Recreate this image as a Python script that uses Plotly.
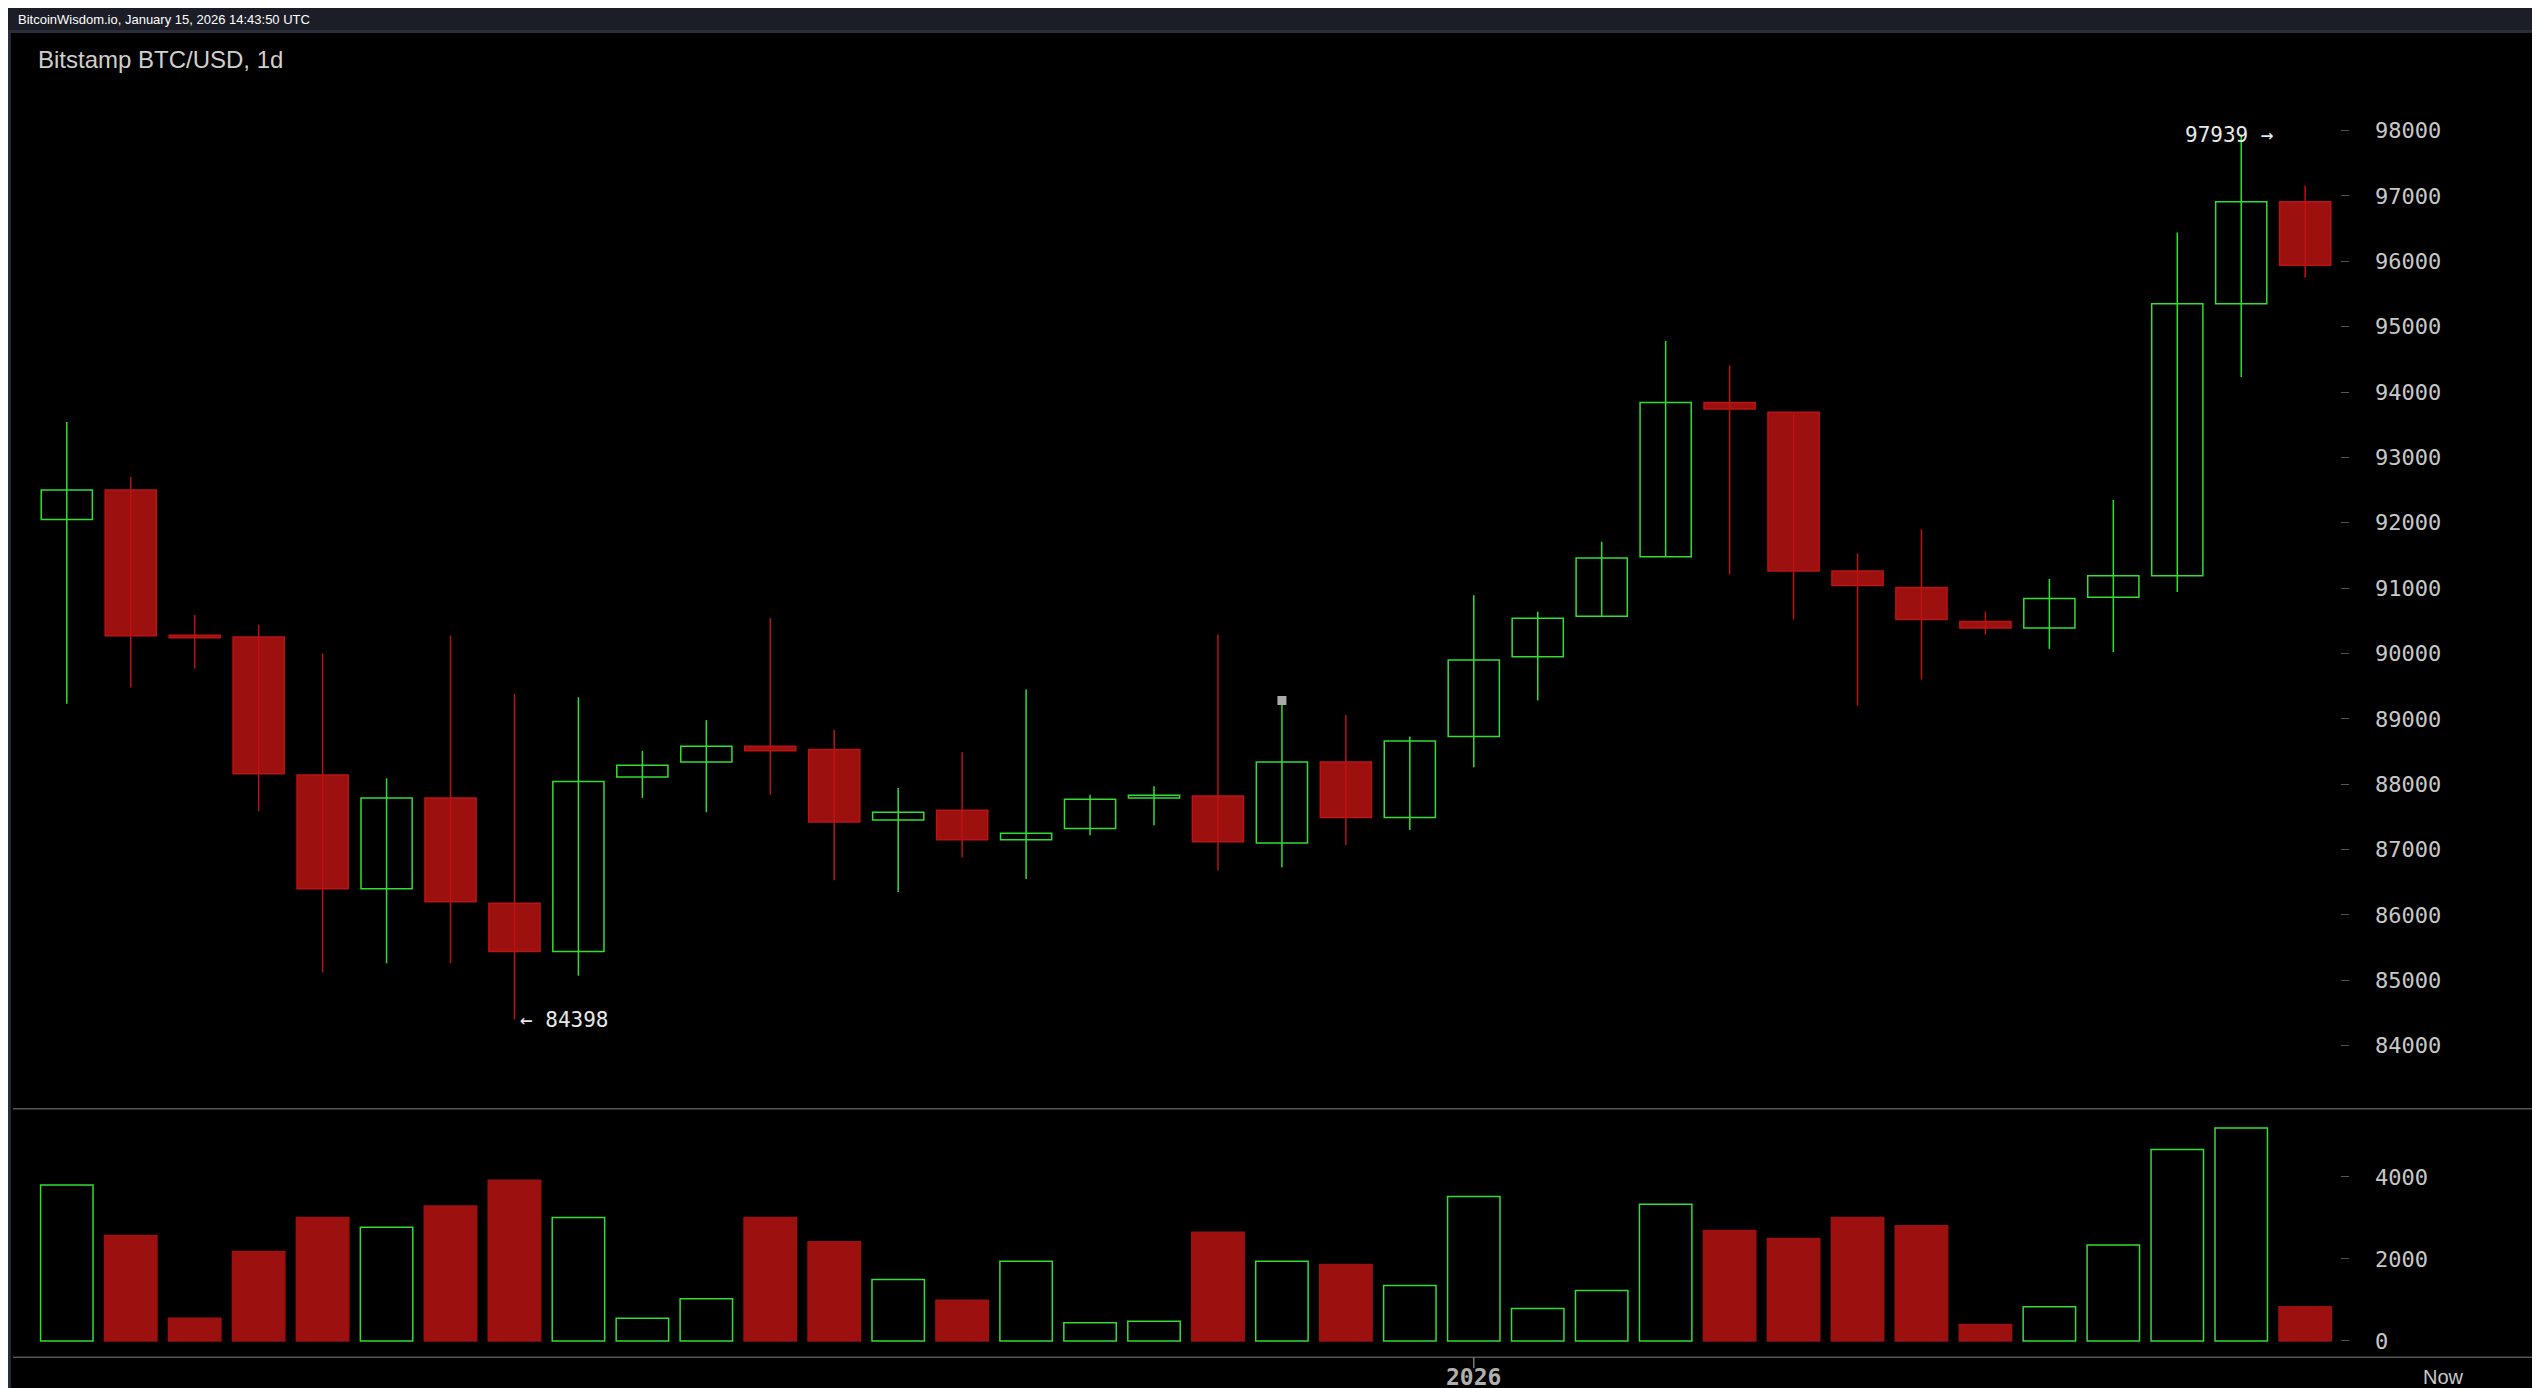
import plotly.graph_objects as go
from plotly.subplots import make_subplots

opens  = [92050,92500,90260,90250,88140,86400,87790,86180,85440,88110,88340,88580,88530,87450,87600,87150,87320,87790,87820,87100,88340,87490,88730,89950,90570,91480,93840,93690,91260,91010,90490,90390,90860,91190,95350,96910]
closes = [92500,90270,90240,88160,86400,87790,86200,85440,88040,88290,88580,88510,87420,87570,87150,87250,87770,87820,87120,88340,87490,88660,89900,90540,91460,93840,93740,91260,91040,90520,90390,90840,91190,95350,96910,95940]
highs  = [93540,92700,90590,90440,90000,88090,90270,89380,89330,88510,88980,90540,88830,87940,88490,89450,87840,87970,90290,89280,89060,88730,90890,90640,91710,94780,94410,93690,91530,91900,90640,91140,92350,96440,97939,97160]
lows   = [89230,89480,89770,87590,85120,85260,85260,84398,85070,87790,87570,87840,86530,86350,86880,86550,87220,87370,86680,86730,87070,87300,88260,89280,90570,91480,91210,90520,89200,89600,90290,90070,90020,90940,94230,95750]
volumes = [3800,2570,550,2180,3010,2770,3290,3920,3010,550,1030,3010,2420,1500,990,1940,440,480,2650,1940,1860,1350,3520,790,1230,3330,2690,2500,3010,2810,400,830,2340,4670,5190,830]
price_ticks = [84000,85000,86000,87000,88000,89000,90000,91000,92000,93000,94000,95000,96000,97000,98000]
vol_ticks = [0,2000,4000]

n = len(opens)
xs = list(range(n))
GREEN = "#33dd33"; RED_LINE = "#b81414"; RED_FILL = "#9c1010"
up = [c >= o for o, c in zip(opens, closes)]

fig = make_subplots(rows=2, cols=1, shared_xaxes=True, vertical_spacing=0)

# wicks
for flag, col in [(True, GREEN), (False, RED_LINE)]:
    wx, wy = [], []
    for i in xs:
        if up[i] == flag:
            wx += [i, i, None]; wy += [lows[i], highs[i], None]
    fig.add_trace(go.Scatter(x=wx, y=wy, mode="lines", line=dict(color=col, width=1.5),
                             showlegend=False, hoverinfo="skip"), row=1, col=1)
# bodies
base = [min(o, c) for o, c in zip(opens, closes)]
hgt = [max(abs(c - o), 40) for o, c in zip(opens, closes)]
fig.add_trace(go.Bar(x=xs, y=hgt, base=base, width=0.8,
    marker=dict(color=["#000000" if u else RED_FILL for u in up],
                line=dict(color=[GREEN if u else RED_LINE for u in up], width=1.5)),
    showlegend=False, hoverinfo="skip"), row=1, col=1)
fig.add_trace(go.Bar(x=xs, y=volumes, width=0.82,
    marker=dict(color=["#000000" if u else RED_FILL for u in up],
                line=dict(color=[GREEN if u else RED_FILL for u in up], width=1.5)),
    showlegend=False, hoverinfo="skip"), row=2, col=1)
fig.add_trace(go.Scatter(x=[19], y=[highs[19]], mode="markers",
    marker=dict(symbol="square", size=9, color="#aaaaaa"), showlegend=False), row=1, col=1)

axfont = dict(family="DejaVu Sans Mono", size=22, color="#c8c8c8")
fig.update_xaxes(range=[-0.84, 35.54], showgrid=False, zeroline=False, showticklabels=False,
                 domain=[0.002, 0.918])
fig.update_yaxes(side="right", showgrid=False, zeroline=False, ticks="outside", ticklen=8,
                 tickcolor="#555", tickfont=axfont, ticklabelstandoff=22, tickformat="d")
fig.update_yaxes(range=[83035, 98644], tickvals=price_ticks, domain=[0.207, 0.942], row=1, col=1)
fig.update_yaxes(range=[-396, 5663], tickvals=vol_ticks, domain=[0.028, 0.207], row=2, col=1)

shapes = [
    dict(type="rect", xref="paper", yref="paper", x0=0, x1=1, y0=0.983, y1=1, fillcolor="#1b1e27", line_width=0, layer="below"),
    dict(type="line", xref="paper", yref="paper", x0=0.002, x1=0.998, y0=0.207, y1=0.207, line=dict(color="#555", width=1.5)),
    dict(type="line", xref="paper", yref="paper", x0=0.002, x1=0.998, y0=0.028, y1=0.028, line=dict(color="#555", width=1.5)),
    dict(type="line", xref="x2", yref="paper", x0=22, x1=22, y0=0.028, y1=0.020, line=dict(color="#777", width=1.5)),
    dict(type="rect", xref="paper", yref="paper", x0=0.0005, x1=0.9995, y0=0.001, y1=0.983, line=dict(color="#2a2e39", width=3)),
]
annotations = [
    dict(text="BitcoinWisdom.io, January 15, 2026 14:43:50 UTC", xref="paper", yref="paper", x=0.003, y=0.9915,
         xanchor="left", yanchor="middle", showarrow=False, font=dict(family="Liberation Sans", size=13, color="#ffffff")),
    dict(text="Bitstamp BTC/USD, 1d", xref="paper", yref="paper", x=0.011, y=0.963, xanchor="left", yanchor="middle",
         showarrow=False, font=dict(family="Liberation Sans", size=24, color="#cfcfcf")),
    dict(text="97939 →", xref="x", yref="y", x=34.55, y=highs[34], xanchor="right", yanchor="middle",
         showarrow=False, font=dict(family="DejaVu Sans Mono", size=21, color="#e8e8e8")),
    dict(text="← 84398", xref="x", yref="y", x=7.05, y=lows[7], xanchor="left", yanchor="middle",
         showarrow=False, font=dict(family="DejaVu Sans Mono", size=21, color="#e8e8e8")),
    dict(text="<b>2026</b>", xref="x2", yref="paper", x=22, y=0.014, xanchor="center", yanchor="middle",
         showarrow=False, font=dict(family="DejaVu Sans Mono", size=23, color="#b0b0b0")),
    dict(text="Now", xref="paper", yref="paper", x=0.959, y=0.014, xanchor="center", yanchor="middle",
         showarrow=False, font=dict(family="Liberation Sans", size=20, color="#c8c8c8")),
]
fig.update_layout(width=2540, height=1388, margin=dict(l=0, r=0, t=0, b=0),
    paper_bgcolor="#000000", plot_bgcolor="#000000", shapes=shapes, annotations=annotations,
    barmode="overlay")
fig.write_html("out.html")
